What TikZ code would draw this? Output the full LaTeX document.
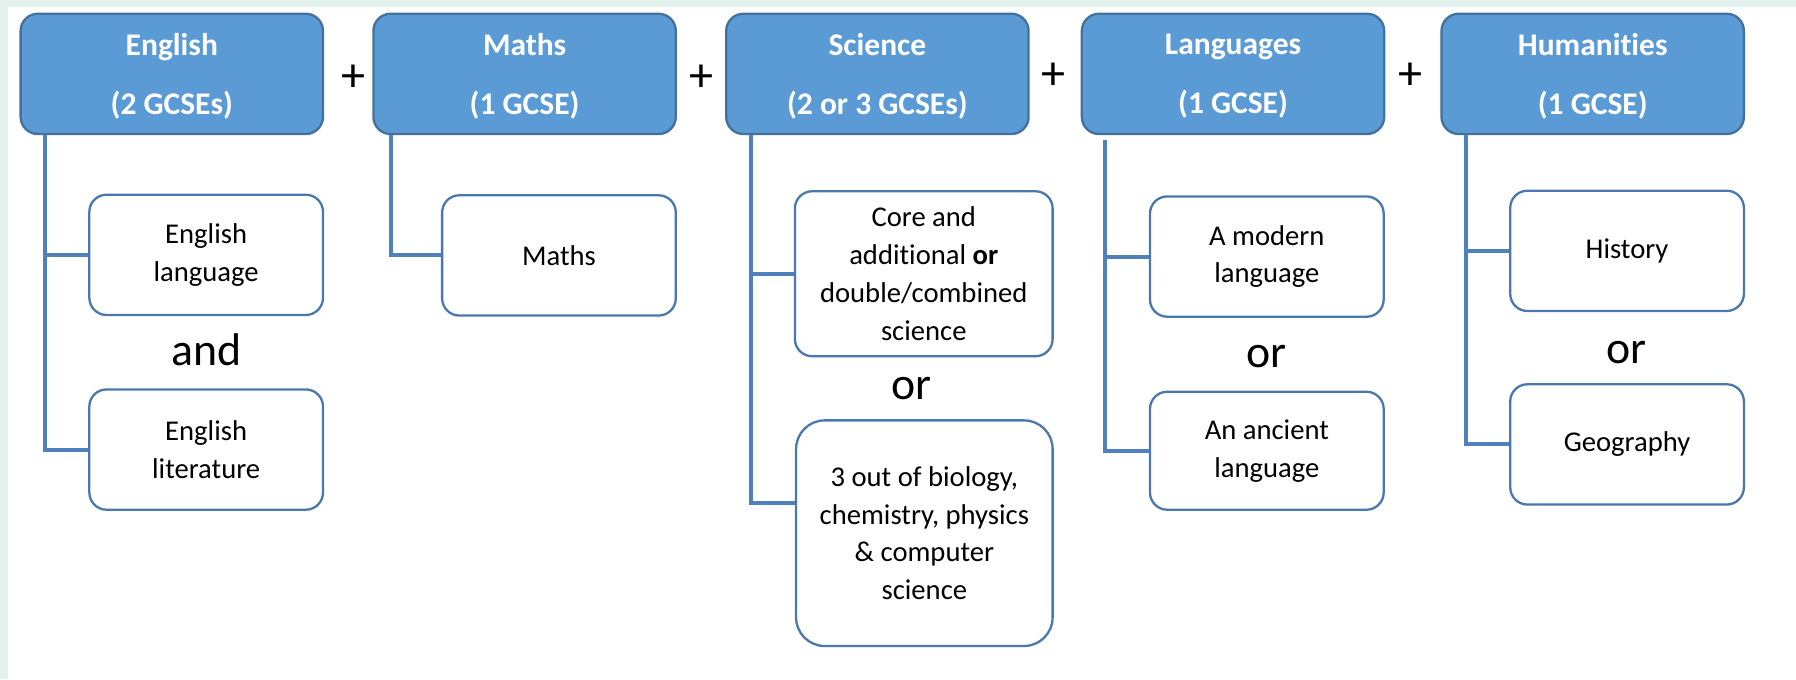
\documentclass[tikz,border=0pt]{standalone}
\usepackage{fontspec}
\setmainfont{Carlito}[Ligatures=NoCommon]
\usepackage{tikz}

\definecolor{headfill}{HTML}{5B9BD5}
\definecolor{headline}{HTML}{41719C}
\definecolor{boxline}{HTML}{4A78AE}
\definecolor{linkline}{HTML}{4F81BD}
\definecolor{mint}{HTML}{E3F1ED}

\begin{document}
\begin{tikzpicture}[x=1pt,y=-1pt,
    head/.style={draw=headline,line width=2pt,fill=headfill,rounded corners=15pt,
      minimum width=264pt,minimum height=105pt,inner sep=0pt,align=center,text=white,
      text depth=0pt,font=\fontsize{27.5}{51}\selectfont\bfseries},
    choice/.style={draw=boxline,line width=2pt,fill=white,rounded corners=15pt,
      minimum width=204pt,minimum height=105pt,inner sep=0pt,align=center,
      font=\fontsize{25}{33}\selectfont},
    word/.style={inner sep=0pt,font=\fontsize{40}{40}\selectfont},
    plus/.style={inner sep=0pt,font=\fontsize{42}{42}\selectfont},
    link/.style={draw=linkline,line width=3.5pt}]
      \useasboundingbox (0,0) rectangle (1568,593);
      \fill[white] (0,0) rectangle (1568,593);
      \fill[mint] (0,0) rectangle (1568,6);
      \fill[mint] (0,0) rectangle (7,593);

      \node[head] (eng) at (150,64.5) {English\\(2 GCSEs)};
      \node[head] (mat) at (458,64.5) {Maths\\(1 GCSE)};
      \node[head] (sci) at (766,64.5) {Science\\(2 or 3 GCSEs)};
      \node[head] (lan) at (1076.5,64.5) {Languages\\(1 GCSE)};
      \node[head] (hum) at (1390.5,64.5) {Humanities\\(1 GCSE)};

      \node[plus] (p1) at (309,68) {+};
      \node[plus] (p2) at (612,68) {+};
      \node[plus] (p3) at (920,67) {+};
      \node[plus] (p4) at (1231,67) {+};

      \node[choice] (englang) at (180,222.5) {English\\language};
      \node[choice] (englit) at (180,392.5) {English\\literature};
      \node[word] (engand) at (180,305) {and};

      \node[choice] (matmaths) at (488,223) {Maths};

      \node[choice,minimum width=225pt,minimum height=144pt] (scicore) at (806.5,239)
        {Core and\\additional \textbf{or}\\double/combined\\science};
      \node[word] (scior) at (796,339) {or};
      \node[choice,minimum width=224pt,minimum height=197pt,rounded corners=25pt] (scitriple) at (807,465.5)
        {3 out of biology,\\chemistry, physics\\\& computer\\science};

      \node[choice] (lanmodern) at (1106,224) {A modern\\language};
      \node[word] (lanor) at (1106,311) {or};
      \node[choice,minimum height=103pt] (lanancient) at (1106,393.5) {An ancient\\language};

      \node[choice] (humhist) at (1420.5,219) {History};
      \node[word] (humor) at (1420,308) {or};
      \node[choice] (humgeo) at (1420.5,388) {Geography};

      \draw[link] ([xshift=22pt]eng.south west) |- (englang.west);
      \draw[link] ([xshift=22pt]eng.south west) |- (englit.west);
      \draw[link] ([xshift=16pt]mat.south west) |- (matmaths.west);
      \draw[link] ([xshift=23pt]sci.south west) |- (scicore.west);
      \draw[link] ([xshift=23pt]sci.south west) |- ([yshift=26pt]scitriple.west);
      \draw[link] ([xshift=21pt,yshift=-4pt]lan.south west) |- (lanmodern.west);
      \draw[link] ([xshift=21pt,yshift=-4pt]lan.south west) |- (lanancient.west);
      \draw[link] ([xshift=22pt]hum.south west) |- (humhist.west);
      \draw[link] ([xshift=22pt]hum.south west) |- (humgeo.west);
    \end{tikzpicture}
\end{document}
